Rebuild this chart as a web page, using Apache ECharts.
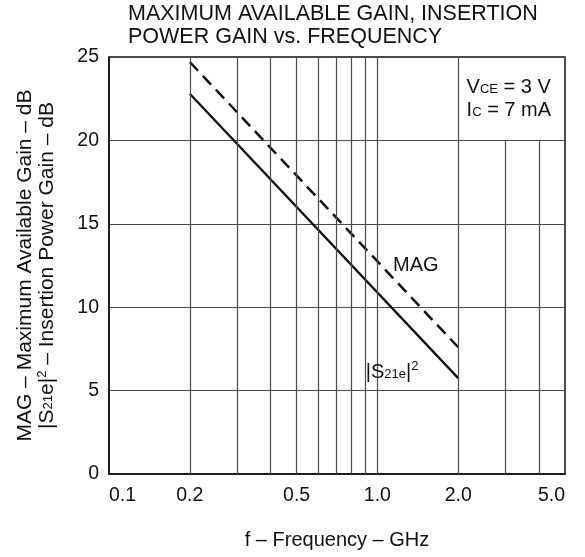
<!DOCTYPE html>
<html><head><meta charset="utf-8">
<script src="https://cdn.jsdelivr.net/npm/echarts@6/dist/echarts.min.js"></script>
<style>html,body{margin:0;padding:0;background:#fff}#c{width:585px;height:557px}</style>
</head><body><div id="c"></div>
<script>
// ---- data ----
const freqGHz = [0.2, 2.0];
const magDb = [24.7, 7.6];
const s21Db = [22.8, 5.75];
const xTickLabels = [0.1, 0.2, 0.5, 1.0, 2.0, 5.0];
const gridFullFreqs = [0.2, 0.3, 0.4, 0.5, 0.6, 0.7, 0.8, 0.9, 1.0, 2.0];
const gridShortFreqs = [3.0, 4.0];   // these stop at 20 dB (condition box)
const gridShortTop = 20;
const magLabelAt = [1.39, 12.5];
const s21LabelAt = [1.135, 6.1];
const condLabelAt = [2.15, 22.5];

const FONT = "'Liberation Sans', Arial, Helvetica, sans-serif";
const INK = '#111';
const GRIDC = '#4a4a4a';

const chart = echarts.init(document.getElementById('c'), null, {renderer: 'canvas'});

const gridLines = gridFullFreqs.map(f => ({xAxis: f}))
  .concat(gridShortFreqs.map(f => [{coord: [f, 0]}, {coord: [f, gridShortTop]}]));

// small text sitting on the baseline
const subStyle = (lh) => ({fontFamily: FONT, fontSize: 13, color: INK, verticalAlign: 'bottom',
  lineHeight: lh - 3, padding: [0, 0, 3, 0]});
const supStyle = (lh) => ({fontFamily: FONT, fontSize: 13, color: INK, verticalAlign: 'top', lineHeight: lh});

chart.setOption({
  animation: false,
  backgroundColor: '#fff',
  title: {
    text: 'MAXIMUM AVAILABLE GAIN, INSERTION\nPOWER GAIN vs. FREQUENCY',
    left: 128, top: 3, padding: 0,
    textStyle: {fontFamily: FONT, fontSize: 21.5, fontWeight: 'normal', color: INK, lineHeight: 23}
  },
  grid: {left: 109, right: 20, top: 57, bottom: 83, show: true, borderColor: INK, borderWidth: 1.5, containLabel: false},
  xAxis: {
    type: 'log', logBase: 10, min: 0.1, max: 5,
    name: 'f – Frequency – GHz', nameLocation: 'middle', nameGap: 56,
    nameTextStyle: {fontFamily: FONT, fontSize: 20, color: INK},
    axisLine: {show: true, lineStyle: {color: INK, width: 1.5}},
    axisTick: {show: false},
    splitLine: {show: false},
    minorTick: {show: false}, minorSplitLine: {show: false},
    axisLabel: {
      customValues: xTickLabels,
      formatter: v => Number(v).toFixed(1),
      fontFamily: FONT, fontSize: 19.5, color: INK, margin: 12,
      alignMinLabel: 'left', alignMaxLabel: 'right'
    }
  },
  yAxis: {
    type: 'value', min: 0, max: 25, interval: 5,
    name: 'MAG – Maximum Available Gain – dB\n|S{sub|21}e|{sup|2} – Insertion Power Gain – dB',
    nameLocation: 'middle', nameGap: 51, nameRotate: 90,
    nameTextStyle: {
      fontFamily: FONT, fontSize: 21, color: INK, lineHeight: 22,
      rich: {sub: subStyle(22), sup: supStyle(22)}
    },
    axisLine: {show: true, lineStyle: {color: INK, width: 1.5}},
    axisTick: {show: false},
    splitLine: {show: true, lineStyle: {color: GRIDC, width: 1.2}},
    axisLabel: {fontFamily: FONT, fontSize: 19.5, color: INK, margin: 10}
  },
  series: [
    {
      name: 'grid', type: 'line', data: [], z: 1, silent: true,
      markLine: {
        silent: true, symbol: ['none', 'none'], animation: false,
        label: {show: false},
        lineStyle: {color: GRIDC, width: 1.2, type: 'solid'},
        data: gridLines
      }
    },
    {
      name: 'MAG', type: 'line', z: 3, showSymbol: false, symbol: 'none',
      data: freqGHz.map((f, i) => [f, magDb[i]]),
      lineStyle: {color: INK, width: 2.5, type: [12, 7]},
      markPoint: {
        silent: true, symbol: 'circle', symbolSize: 0,
        data: [
          {coord: magLabelAt, label: {show: true, position: 'inside', formatter: 'MAG',
            fontFamily: FONT, fontSize: 20, color: INK}},
          {coord: condLabelAt, label: {show: true, position: 'inside', align: 'left', verticalAlign: 'middle',
            formatter: 'V{sub|CE} = 3 V\nI{sub|C} = 7 mA',
            fontFamily: FONT, fontSize: 20, color: INK, lineHeight: 23,
            rich: {sub: subStyle(23)}}}
        ]
      }
    },
    {
      name: 'S21', type: 'line', z: 3, showSymbol: false, symbol: 'none',
      data: freqGHz.map((f, i) => [f, s21Db[i]]),
      lineStyle: {color: INK, width: 2.3, type: 'solid'},
      markPoint: {
        silent: true, symbol: 'circle', symbolSize: 0,
        data: [
          {coord: s21LabelAt, label: {show: true, position: 'inside',
            formatter: '|S{sub|21e}|{sup|2}',
            fontFamily: FONT, fontSize: 20, color: INK, lineHeight: 24,
            rich: {sub: subStyle(24), sup: supStyle(24)}}}
        ]
      }
    }
  ]
});
</script>
</body></html>
